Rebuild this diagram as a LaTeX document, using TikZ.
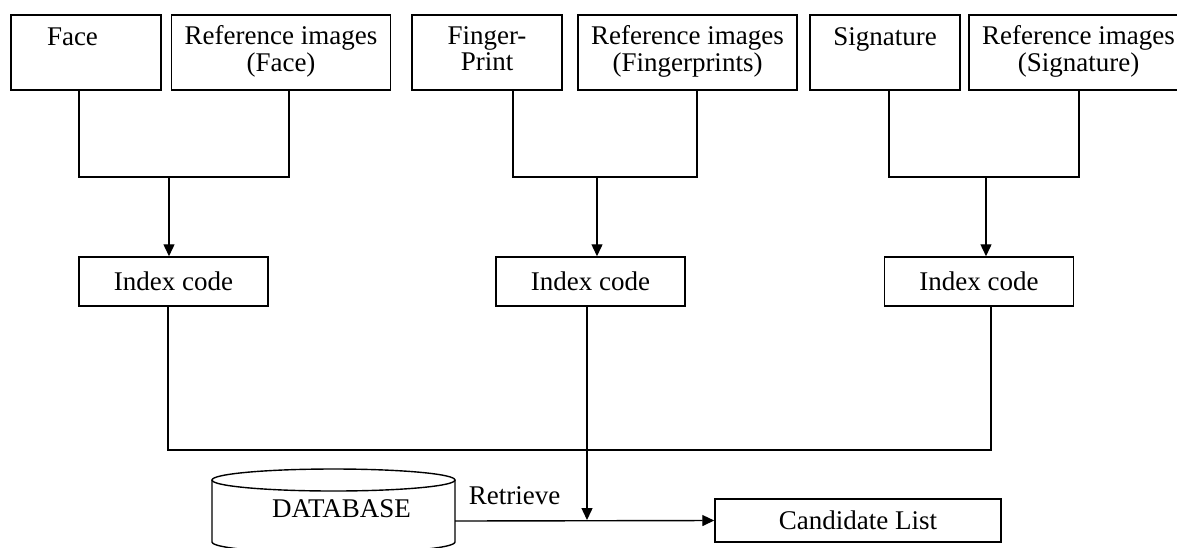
\documentclass[tikz,border=0pt]{standalone}
\usepackage{fontspec}
\setmainfont{Liberation Serif}
\usetikzlibrary{arrows.meta}

\tikzset{
    box/.style={draw,line width=1.5pt,inner sep=0pt,align=center},
    inbox/.style={box,minimum width=150pt,minimum height=75pt},
    refbox/.style={box,minimum width=219pt,minimum height=75pt},
    idxbox/.style={box,minimum width=189pt,minimum height=49pt},
    wire/.style={line width=1.4pt},
    arr/.style={wire,-{Triangle[length=12pt,width=11pt]}},
    every node/.style={font=\fontsize{27}{25}\selectfont}
}

\begin{document}
\begin{tikzpicture}[x=1pt,y=-1pt]
    \pgfmathsetmacro{\toprowy}{52.5}
    \pgfmathsetmacro{\idxrowy}{281.5}
    \pgfmathsetmacro{\joiny}{177}
    \pgfmathsetmacro{\busy}{450}
    \pgfmathsetmacro{\retrievey}{520}
    \useasboundingbox (0,0) rectangle (1177,547);
    % inputs and their reference images
    \node[inbox,text width=78pt,inner xsep=36pt,align=left] (face) at (86,\toprowy) {\strut Face\\\strut};
    \node[refbox] (refface) at (281,\toprowy) {\strut Reference images\\\strut(Face)};
    \node[inbox] (finger) at (487,\toprowy) {\strut Finger-\\\strut Print};
    \node[refbox] (reffinger) at (687.5,\toprowy) {\strut Reference images\\\strut(Fingerprints)};
    \node[inbox] (sign) at (885,\toprowy) {\strut Signature\\\strut};
    \node[refbox] (refsign) at (1078.5,\toprowy) {\strut Reference images\\\strut(Signature)};
    % index codes
    \node[idxbox] (idxface) at (173.5,\idxrowy) {Index code};
    \node[idxbox] (idxfinger) at (590.5,\idxrowy) {Index code};
    \node[idxbox] (idxsign) at (979,\idxrowy) {Index code};
    \coordinate (jface) at (169,\joiny);
    \coordinate (jfinger) at (597,\joiny);
    \coordinate (jsign) at (986,\joiny);
    \draw[wire] ([xshift=-7pt]face.south) |- (jface) -| ([xshift=8pt]refface.south);
    \draw[wire] ([xshift=26pt]finger.south) |- (jfinger) -| ([xshift=9.5pt]reffinger.south);
    \draw[wire] ([xshift=4pt]sign.south) |- (jsign) -| ([xshift=0.5pt]refsign.south);
    \draw[arr] (jface) -- (jface |- idxface.north);
    \draw[arr] (jfinger) -- (jfinger |- idxfinger.north);
    \draw[arr] (jsign) -- (jsign |- idxsign.north);
    % bus to the retrieval
    \coordinate (merge) at (587,\busy);
    \coordinate (hit) at (587,\retrievey);
    \draw[wire] ([xshift=-5.5pt]idxface.south) |- (merge) -| ([xshift=12pt]idxsign.south);
    \draw[arr] ([xshift=-3.5pt]idxfinger.south) -- (hit);
    % database
    \draw[wire] (333.5,480) ellipse [x radius=121.5, y radius=11];
    \draw[wire] (212,480) -- (212,542) arc[start angle=180, end angle=0, x radius=121.5, y radius=11] -- (455,480);
    \node (db) at (341.5,509) {DATABASE};
    \coordinate (dbout) at (455,521);
    \node[box,minimum width=286pt,minimum height=43pt] (cand) at (858,520.5) {Candidate List};
    \draw[arr] (dbout) -- (cand.west) node[pos=0.23,above,inner sep=0pt,yshift=15pt] {Retrieve};
\end{tikzpicture}
\end{document}
